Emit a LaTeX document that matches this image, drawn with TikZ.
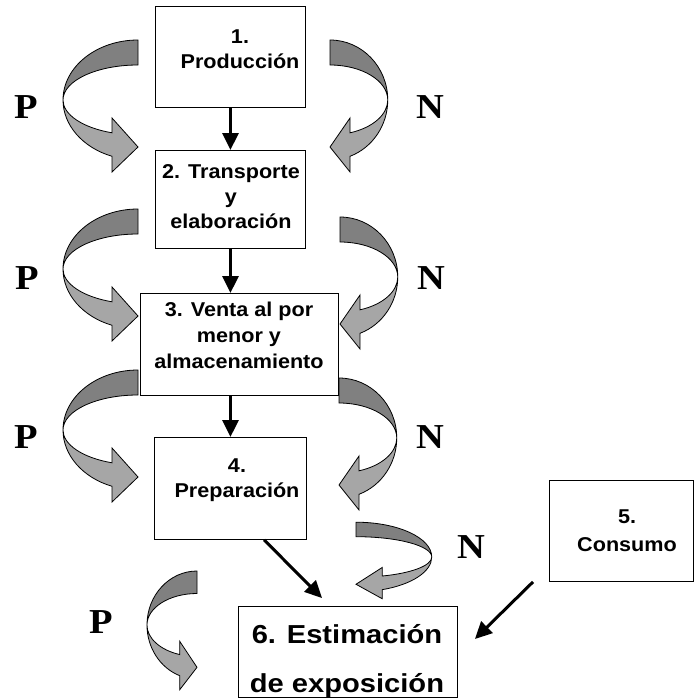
\documentclass[tikz,border=0pt]{standalone}
\usepackage{fontspec}
\setmainfont{Liberation Sans}
\newfontfamily\boxfont{Liberation Sans}[FakeStretch=1.08]
\newfontfamily\bigboxfont{Liberation Sans}[FakeStretch=1.12]
\newfontfamily\letterfont{Liberation Serif}[FakeStretch=1.1]
\usetikzlibrary{arrows.meta,calc}
\definecolor{bandDark}{RGB}{128,128,128}
\definecolor{bandLight}{RGB}{166,166,166}
\tikzset{
  stagebox/.style={draw=black, line width=0.9pt, fill=white, inner sep=0pt, anchor=north west},
  stagetext/.style={font=\boxfont\bfseries\fontsize{20}{25}\selectfont, align=center, anchor=base, inner sep=0pt},
  bigtext/.style={font=\bigboxfont\bfseries\fontsize{26}{49}\selectfont, align=center, anchor=base, inner sep=0pt},
  pnletter/.style={font=\letterfont\bfseries\fontsize{35}{35}\selectfont, anchor=base, inner sep=0pt},
  conn/.style={line width=3pt, -{Triangle[width=16pt,length=17pt]}},
  bandline/.style={draw=black, line width=0.8pt},
  curvarrow/.pic={
    \filldraw[bandline, fill=bandDark] (0,-60) .. controls (-41.4,-60) and (-75,-33.1) .. (-75,0)
      .. controls (-75,-19.3) and (-41.4,-35) .. (0,-35) -- cycle;
    \filldraw[bandline, fill=bandLight] (-75,0) .. controls (-75,25.1) and (-55.4,47.6) .. (-26,56.3)
      -- (-26,72) -- (0,47) -- (-26,18) -- (-26,32.8)
      .. controls (-55.4,27.8) and (-75,14.6) .. (-75,0) -- cycle;
  }
}
\begin{document}
\begin{tikzpicture}[x=1pt,y=-1pt]
\useasboundingbox (0,0) rectangle (694,698);

% curved P / N arrows
\pic at (138,100) {curvarrow};
\pic at (138,269) {curvarrow};
\pic at (138,430) {curvarrow};
\pic[xscale=0.667, yscale=0.9] at (197,625) {curvarrow};
\pic[xscale=-0.77] at (330,100) {curvarrow};
\pic[xscale=-0.77] at (340,277) {curvarrow};
\pic[xscale=-0.77] at (339,438) {curvarrow};
\pic[xscale=-1.01, yscale=0.58] at (356,557) {curvarrow};

% boxes
\node[stagebox, minimum width=150pt, minimum height=101pt] (b1) at (155,6) {};
\node[stagebox, minimum width=150pt, minimum height=98pt] (b2) at (155,150) {};
\node[stagebox, minimum width=198pt, minimum height=102pt] (b3) at (140,293) {};
\node[stagebox, minimum width=152pt, minimum height=102pt] (b4) at (154,437) {};
\node[stagebox, minimum width=144pt, minimum height=101pt] (b5) at (549,480) {};
\node[stagebox, minimum width=219pt, minimum height=91pt] (b6) at (238,606) {};

% texts (anchor = baseline of last line)
\node[stagetext] (t1) at (240,69) {1.\\Producción};
\node[stagetext] (t2) at (231,228) {2. Transporte\\y\\ elaboración};
\node[stagetext, font=\boxfont\bfseries\fontsize{20}{26}\selectfont] (t3) at (239,368) {3. Venta al por\\menor y\\almacenamiento};
\node[stagetext] (t4) at (237,497) {4.\\Preparación};
\node[stagetext, font=\boxfont\bfseries\fontsize{20}{28}\selectfont] (t5) at (627,551) {5.\\Consumo};
\node[bigtext] (t6) at (347,692) {6. Estimación\\de exposición};

% letters
\node[pnletter] (p1) at (26,118) {P};
\node[pnletter] (n1) at (430,119) {N};
\node[pnletter] (p2) at (27,289) {P};
\node[pnletter] (n2) at (431,289) {N};
\node[pnletter] (p3) at (26,448) {P};
\node[pnletter] (n3) at (430,448) {N};
\node[pnletter] (n4) at (471,558) {N};
\node[pnletter] (p4) at (101,633) {P};

% connectors
\draw[conn] (b1.south) -- (b2.north);
\draw[conn] (b2.south) -- (b2.south |- b3.north);
\draw[conn] (b3.south -| b4.north) -- (b4.north);
\coordinate (e46) at ($(b6.north west)+(84,-8)$);
\draw[conn] ($(b4.south west)!0.72!(b4.south east)$) -- (e46);
\coordinate (s56) at ($(b5.south west)+(-16,0)$);
\coordinate (e56) at ($(b6.north east)+(17,33)$);
\draw[conn] (s56) -- (e56);
\end{tikzpicture}
\end{document}
